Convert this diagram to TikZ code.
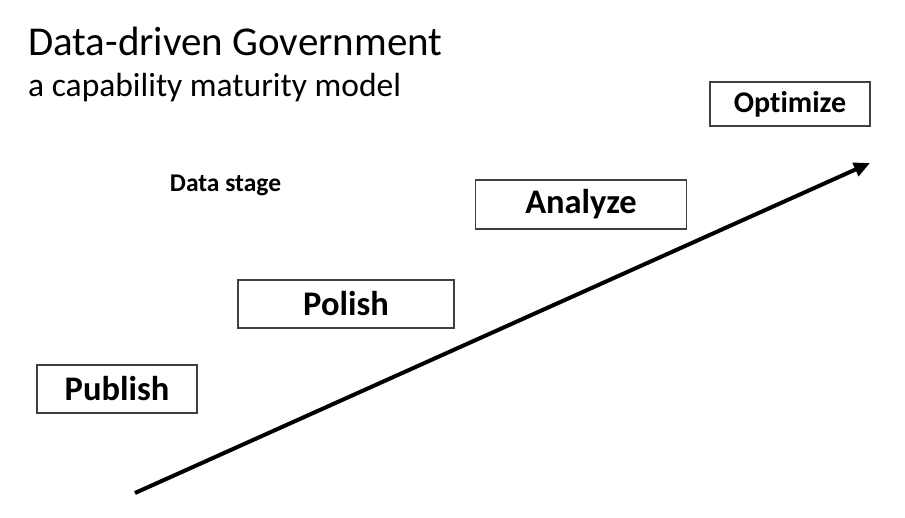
\documentclass[tikz,border=0pt]{standalone}
\usepackage{fontspec}
\setmainfont[Ligatures=NoCommon]{Carlito}
\usetikzlibrary{arrows.meta}
\begin{document}
\begin{tikzpicture}[x=1pt,y=-1pt,
  stagebox/.style={draw=black!75,line width=1.2pt,inner sep=0pt,font=\bfseries\fontsize{34.5}{40}\selectfont},
  heading/.style={anchor=base west,inner sep=0pt}]
\useasboundingbox (0,0) rectangle (905,518);
\node[heading,font=\fontsize{41}{48}\selectfont] (title) at (28,56) {Data-driven Government};
\node[heading,font=\fontsize{33.5}{40}\selectfont] (subtitle) at (28,97) {a capability maturity model};
\node[anchor=base,inner sep=0pt,font=\bfseries\fontsize{25.5}{30}\selectfont] (datastage) at (225.5,191.7) {Data stage};
\node[stagebox,minimum width=160pt,minimum height=44pt,font=\bfseries\fontsize{30}{36}\selectfont] (optimize) at (790,104) {Optimize};
\node[stagebox,minimum width=211pt,minimum height=49pt] (analyze) at (581,204.5) {Analyze};
\node[stagebox,minimum width=216pt,minimum height=48pt] (polish) at (346,304) {Polish};
\node[stagebox,minimum width=160pt,minimum height=48pt] (publish) at (117,389) {Publish};
\coordinate (start) at (135,493);
\coordinate (end) at (870,163);
\draw[line width=4pt,-{Triangle[length=16pt,width=14pt]}] (start) -- (end);
\end{tikzpicture}
\end{document}
